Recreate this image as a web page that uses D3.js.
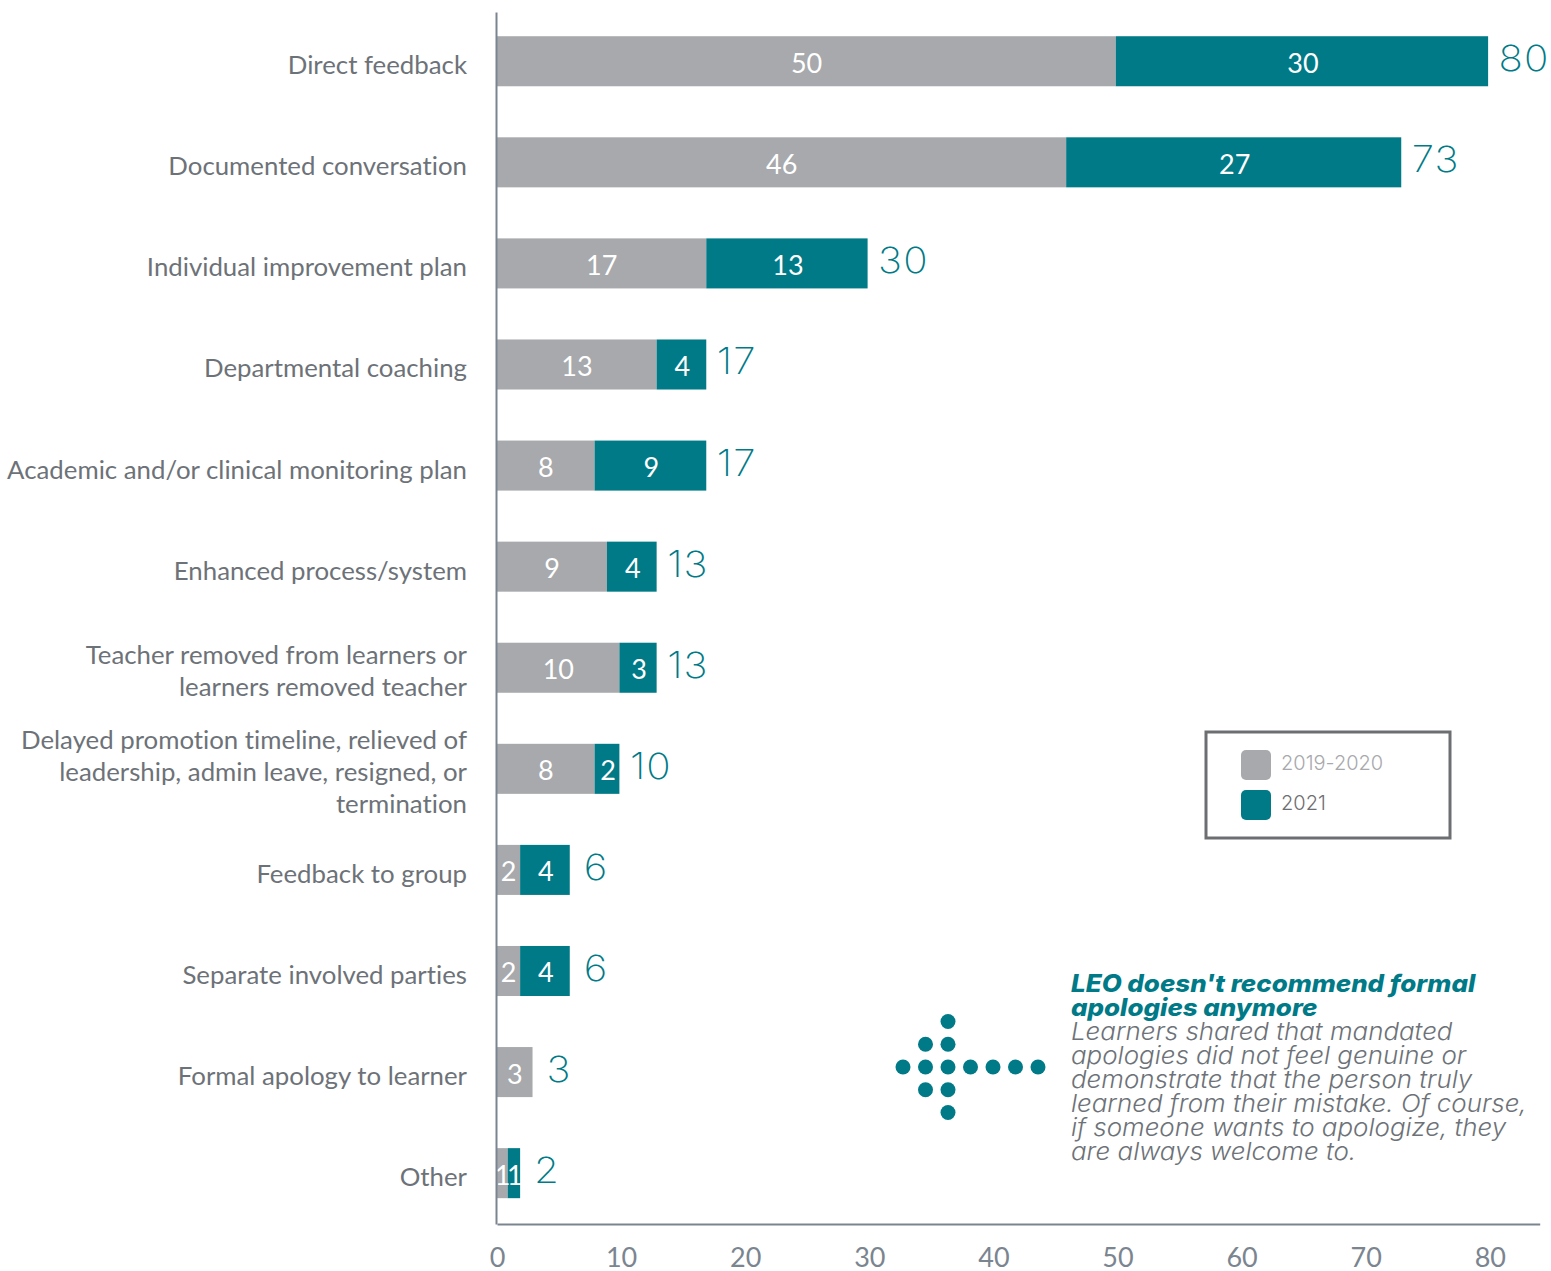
<!DOCTYPE html>
<html><head><meta charset="utf-8">
<script src="https://cdn.jsdelivr.net/npm/d3@7"></script>
<style>html,body{margin:0;padding:0;background:#fff}svg{display:block}text{font-variant-ligatures:none}</style>
</head><body><div id="chart"></div>
<script>
const categories=["Direct feedback","Documented conversation","Individual improvement plan","Departmental coaching","Academic and/or clinical monitoring plan","Enhanced process/system","Teacher removed from learners or|learners removed teacher","Delayed promotion timeline, relieved of|leadership, admin leave, resigned, or|termination","Feedback to group","Separate involved parties","Formal apology to learner","Other"];
const series2019=[50,46,17,13,8,9,10,8,2,2,3,1];
const series2021=[30,27,13,4,9,4,3,2,4,4,0,1];
const totals=[80,73,30,17,17,13,13,10,6,6,3,2];
const tickValues=[0,10,20,30,40,50,60,70,80];
const legendLabels=["2019-2020","2021"];
const noteTitle=["LEO doesn't recommend formal","apologies anymore"];
const noteBody=["Learners shared that mandated","apologies did not feel genuine or","demonstrate that the person truly","learned from their mistake. Of course,","if someone wants to apologize, they","are always welcome to."];
const arrowDots=[[0,3],[1,2],[1,3],[1,4],[2,1],[2,2],[2,3],[2,4],[2,5],[3,3],[4,3],[5,3],[6,3]];

const GRAY="#a7a9ac",TEAL="#007a87",TXT="#6d7278",AXIS="#7b8590";
const svg=d3.select("#chart").append("svg").attr("width",1551).attr("height",1271);
const x=d3.scaleLinear().domain([0,84.02]).range([495.3,1538]);
const x0=497;
const y=d3.scaleBand().domain(categories).range([10.7,1223.7]).paddingInner(0.505).paddingOuter(0.2525);

const rows=svg.append("g").selectAll("g").data(categories).join("g");
rows.append("rect").attr("x",x0).attr("y",d=>y(d)).attr("height",y.bandwidth())
 .attr("width",(d,i)=>x(series2019[i])-x0).attr("fill",GRAY);
rows.append("rect").attr("x",(d,i)=>x(series2019[i])).attr("y",d=>y(d)).attr("height",y.bandwidth())
 .attr("width",(d,i)=>x(series2019[i]+series2021[i])-x(series2019[i])).attr("fill",TEAL);
const mid=d=>y(d)+y.bandwidth()/2;
const seg=(sel)=>sel.attr("y",d=>mid(d)+11.5).attr("text-anchor","middle").attr("fill","#fff")
 .attr("font-family","Lato").attr("font-size",27);
rows.append("text").call(seg).attr("x",(d,i)=>x(series2019[i]/2)+1).text((d,i)=>series2019[i]);
rows.filter((d,i)=>series2021[i]>0).append("text").call(seg)
 .attr("x",d=>{const i=categories.indexOf(d);return x(series2019[i]+series2021[i]/2)+1})
 .text(d=>series2021[categories.indexOf(d)]);
rows.append("text")
 .attr("transform",(d,i)=>`translate(${x(totals[i])+(totals[i]<10?14:10.5)},${mid(d)+10}) scale(1.12,1)`)
 .attr("font-family","Inter").attr("font-weight",250).attr("font-size",36).attr("letter-spacing",1)
 .attr("fill",TEAL).text((d,i)=>totals[i]);

// category labels
const lab=svg.append("g").selectAll("text").data(categories).join("text")
 .attr("text-anchor","end").attr("font-family","Lato").attr("font-size",25.8).attr("fill",TXT)
 .attr("y",d=>mid(d)+13);
lab.each(function(d){
  const lines=d.split("|"),n=lines.length;
  d3.select(this).selectAll("tspan").data(lines).join("tspan")
    .attr("x",467).attr("dy",(l,i)=>i===0?-(n-1)*16+(n>1?-1:0):32).text(l=>l);
});

// axes
const xAxis=d3.axisBottom(x).tickValues(tickValues).tickSize(0).tickPadding(24).tickFormat(d3.format("d"));
const gx=svg.append("g").attr("transform","translate(1.7,1224)").call(xAxis);
gx.select(".domain").attr("stroke",AXIS).attr("stroke-width",2);
gx.selectAll("text").attr("font-family","Lato").attr("font-size",27).attr("fill",AXIS);
const yAxisLine=d3.axisLeft(d3.scaleLinear().domain([0,1]).range([1224,12])).tickValues([]).tickSizeOuter(0);
const gy=svg.append("g").attr("transform","translate(496,0)").call(yAxisLine);
gy.select(".domain").attr("stroke",AXIS).attr("stroke-width",2);

// legend
const lg=svg.append("g");
lg.append("rect").attr("x",1206).attr("y",732).attr("width",244).attr("height",106)
 .attr("fill","#fff").attr("stroke","#6d6e71").attr("stroke-width",3);
legendLabels.forEach((t,i)=>{
  lg.append("rect").attr("x",1241).attr("y",750+i*40).attr("width",30).attr("height",30).attr("rx",5)
    .attr("fill",[GRAY,TEAL][i]);
  lg.append("text").attr("x",1281).attr("y",770+i*40).attr("font-family","Inter").attr("font-weight",300)
    .attr("font-size",20).attr("fill",i?"#6d6e71":GRAY).text(t);
});

// arrow of dots
const dx=d3.scaleLinear().domain([0,6]).range([903,1038]);
const dy=d3.scaleLinear().domain([1,5]).range([1021.5,1112.5]);
svg.append("g").selectAll("circle").data(arrowDots).join("circle")
 .attr("cx",d=>dx(d[0])).attr("cy",d=>dy(d[1])).attr("r",7.5).attr("fill",TEAL);

// note
const note=svg.append("g").attr("transform","translate(1071,0) scale(1.08,1)")
 .attr("font-family","Inter").attr("font-style","italic").attr("font-size",24);
note.selectAll("text.t").data(noteTitle).join("text").attr("class","t").attr("x",0)
 .attr("y",(d,i)=>992+i*24).attr("font-weight",800).attr("fill",TEAL).text(d=>d);
note.selectAll("text.b").data(noteBody).join("text").attr("class","b").attr("x",0)
 .attr("y",(d,i)=>1040+i*24).attr("font-weight",300).attr("fill",TXT).text(d=>d);
</script></body></html>
